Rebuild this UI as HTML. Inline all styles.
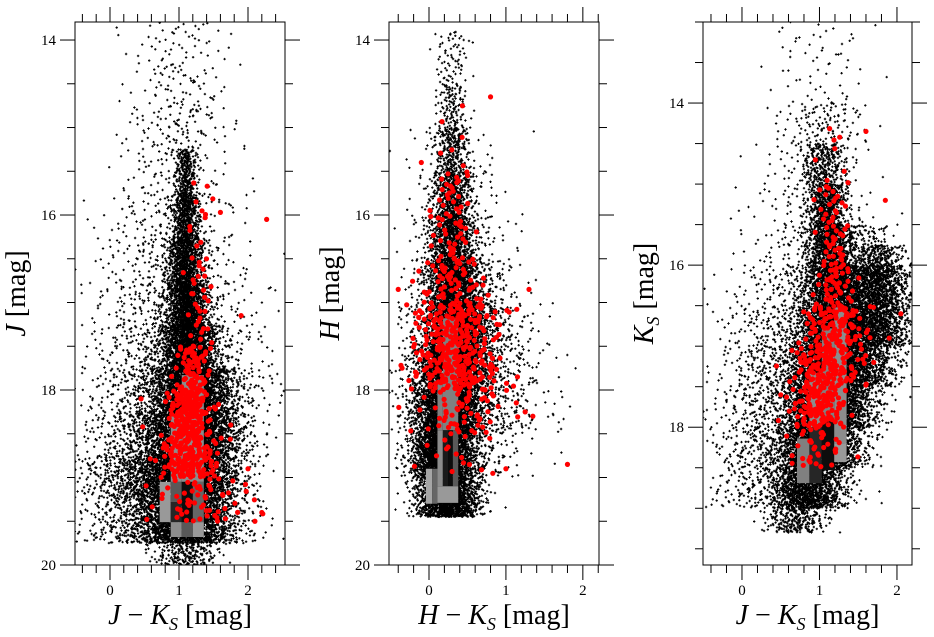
<!DOCTYPE html>
<html><head><meta charset="utf-8"><style>
html,body{margin:0;padding:0;background:#fff;}
svg{display:block;font-family:"Liberation Serif",serif;}
</style></head><body>
<svg id="fig" width="934" height="637" viewBox="0 0 934 637"></svg>
<script>
// ---------- DATA ----------
const p1BinLo   = [13.8,14.25,14.75,15.25,15.75,16.25,16.75,17.25,17.75,18.25,18.75,19.25,19.75];
const p1BinHi   = [14.25,14.75,15.25,15.75,16.25,16.75,17.25,17.75,18.25,18.75,19.25,19.75,20.0];
const p1CoreN   = [50,70,110,250,450,700,1000,1400,1800,2000,2000,1700,200];
const p1CoreC   = [1.0,1.0,1.0,1.1,1.1,1.1,1.12,1.15,1.2,1.2,1.15,1.1,1.1];
const p1CoreS   = [0.4,0.35,0.4,0.08,0.1,0.13,0.15,0.2,0.28,0.32,0.35,0.35,0.25];
const p1HaloN   = [0,0,0,80,130,180,250,400,650,900,1100,800,0];
const p1HaloC   = [0,0,0,0.9,0.9,0.9,0.9,0.95,1.0,0.9,0.7,0.8,0];
const p1HaloS   = [0,0,0,0.45,0.5,0.55,0.6,0.6,0.6,0.55,0.55,0.6,0];
const p1RedLo   = [15.6,16.5,17.5,18.0,18.5,19.0];
const p1RedHi   = [16.5,17.5,18.0,18.5,19.0,19.5];
const p1RedN    = [12,30,70,180,180,60];
const p1RedC    = [1.3,1.3,1.2,1.15,1.15,1.3];
const p1RedS    = [0.12,0.1,0.12,0.15,0.2,0.35];
const p1OutX    = [1.6,2.27,1.9,0.45,2.2,2.1,1.75,2.0];
const p1OutY    = [15.97,16.05,17.15,18.1,19.4,19.5,18.4,18.9];
const p1CellX0  = [1.04,0.88,0.72,0.88,0.88,1.04,1.2,0.88,1.04,1.2];
const p1CellX1  = [1.36,1.04,0.88,1.04,1.04,1.2,1.36,1.04,1.2,1.36];
const p1CellY0  = [17.83,18.3,19.05,19.05,19.28,19.05,19.05,19.51,19.51,19.51];
const p1CellY1  = [19.05,19.05,19.51,19.28,19.51,19.51,19.51,19.68,19.68,19.68];
const p1CellG   = [0.55,0.55,0.6,0.35,0.15,0.05,0.4,0.55,0.35,0.6];

const p2BinLo   = [13.9,14.5,15.0,15.5,16.0,16.5,17.0,17.5,18.0,18.5,19.0];
const p2BinHi   = [14.5,15.0,15.5,16.0,16.5,17.0,17.5,18.0,18.5,19.0,19.45];
const p2CoreN   = [70,120,250,450,700,1000,1400,1700,1900,2100,1700];
const p2CoreC   = [0.3,0.3,0.3,0.3,0.3,0.32,0.35,0.3,0.25,0.2,0.25];
const p2CoreS   = [0.12,0.1,0.11,0.13,0.15,0.18,0.2,0.22,0.22,0.2,0.2];
const p2HaloN   = [0,0,50,80,120,250,400,450,350,200,0];
const p2HaloC   = [0,0,0.3,0.35,0.4,0.45,0.5,0.5,0.55,0.45,0];
const p2HaloS   = [0,0,0.3,0.3,0.35,0.35,0.4,0.45,0.5,0.4,0];
const p2RedLo   = [14.6,15.5,16.0,16.5,17.0,17.5,18.0,18.5];
const p2RedHi   = [15.5,16.0,16.5,17.0,17.5,18.0,18.5,19.0];
const p2RedN    = [6,25,30,60,160,170,60,15];
const p2RedC    = [0.4,0.3,0.3,0.3,0.35,0.35,0.45,0.35];
const p2RedS    = [0.2,0.12,0.15,0.22,0.28,0.28,0.3,0.25];
const p2OutX    = [-0.4,-0.35,1.3,1.8,1.35,0.8,1.0,-0.1,1.15,1.25];
const p2OutY    = [16.85,17.75,16.85,18.85,18.3,14.65,18.9,15.4,17.85,18.25];
const p2CellX0  = [0.18,0.11,0.11,0.18,0.25,0.31,-0.04,0.04,0.11];
const p2CellX1  = [0.38,0.18,0.18,0.25,0.31,0.38,0.04,0.11,0.38];
const p2CellY0  = [17.18,17.9,18.46,18.46,18.46,18.46,18.9,18.9,19.1];
const p2CellY1  = [18.46,18.46,19.1,19.1,19.1,19.1,19.3,19.3,19.29];
const p2CellG   = [0.5,0.5,0.55,0.1,0.05,0.35,0.65,0.4,0.6];

const p3BinLo   = [13.0,14.0,14.5,15.0,15.5,15.75,16.0,16.5,17.0,17.5,18.0,18.5,19.0];
const p3BinHi   = [14.0,14.5,15.0,15.5,15.75,16.0,16.5,17.0,17.5,18.0,18.5,19.0,19.3];
const p3CoreN   = [60,120,300,500,400,400,1200,1600,1900,2100,2000,1300,250];
const p3CoreC   = [1.0,1.05,1.05,1.1,1.15,1.15,1.2,1.2,1.15,1.1,1.0,0.85,0.7];
const p3CoreS   = [0.35,0.3,0.15,0.13,0.16,0.16,0.22,0.25,0.27,0.27,0.27,0.25,0.2];
const p3HaloN   = [0,0,50,80,65,65,120,180,220,200,180,120,0];
const p3HaloC   = [0,0,0.9,0.9,1.0,1.0,0.6,0.5,0.4,0.3,0.2,0.1,0];
const p3HaloS   = [0,0,0.4,0.45,0.5,0.5,0.4,0.4,0.35,0.35,0.3,0.3,0];
const p3BlobN   = [0,0,0,0,40,200,850,1000,500,100,0,0,0];
const p3BlobC   = [0,0,0,0,1.65,1.75,1.75,1.7,1.6,1.5,0,0,0];
const p3BlobS   = [0,0,0,0,0.15,0.18,0.22,0.25,0.25,0.22,0,0,0];
const p3RedLo   = [14.3,15.0,15.5,16.0,16.5,17.0,17.5,18.0];
const p3RedHi   = [15.0,15.5,16.0,16.5,17.0,17.5,18.0,18.5];
const p3RedN    = [8,20,30,45,120,150,120,35];
const p3RedC    = [1.2,1.15,1.2,1.2,1.2,1.1,1.0,0.95];
const p3RedS    = [0.12,0.1,0.1,0.12,0.2,0.22,0.18,0.18];
const p3OutX    = [1.6,1.85,0.5,1.9,2.05,1.7];
const p3OutY    = [14.35,15.2,17.6,16.9,16.6,17.2];
const p3CellX0  = [0.71,0.87,0.87,1.03,1.03,1.19,1.19];
const p3CellX1  = [0.87,1.03,1.03,1.19,1.19,1.35,1.35];
const p3CellY0  = [18.14,17.33,18.0,16.78,17.9,16.52,18.2];
const p3CellY1  = [18.69,18.0,18.69,17.9,18.53,18.2,18.43];
const p3CellG   = [0.5,0.55,0.15,0.5,0.05,0.55,0.6];

// ---------- RENDER ----------
const NS="http://www.w3.org/2000/svg";
const svg=document.getElementById('fig');
function mk(tag,attrs,parent){const e=document.createElementNS(NS,tag);for(const k in attrs)e.setAttribute(k,attrs[k]);(parent||svg).appendChild(e);return e;}
function halton(i,b){let f=1,r=0;while(i>0){f/=b;r+=f*(i%b);i=Math.floor(i/b);}return r;}
let seq=1;
function gauss(){const u1=Math.max(1e-6,halton(seq,2)),u2=halton(seq,3),u3=halton(seq,5);seq++;return [Math.sqrt(-2*Math.log(u1))*Math.cos(2*Math.PI*u2),u3];}

function panel(cfg){
  const {id,L,R,T,B,xmin,xmax,ymin,ymax}=cfg;
  const sx=v=>L+(v-xmin)/(xmax-xmin)*(R-L);
  const sy=v=>T+(v-ymin)/(ymax-ymin)*(B-T);
  const g=mk('g',{});
  
  
  const cp=mk('clipPath',{id:id+'clip'},g);mk('rect',{x:L,y:T,width:R-L,height:B-T},cp);
  const plot=mk('g',{'clip-path':'url(#'+id+'clip)'},g);
  const pts=mk('g',{fill:'#000'},plot);
  
  
  let d='';
  function cloud(lo,hi,N,C,S,target,size,color){
    for(let b=0;b<lo.length;b++){
      for(let k=0;k<N[b];k++){
        const [z,u]=gauss();
        const x=C[b]+S[b]*z, y=lo[b]+(hi[b]-lo[b])*u;
        if(color){const c=mk('circle',{cx:sx(x).toFixed(1),cy:sy(y).toFixed(1),r:size},target);
          
          }
        else {const px=sx(x),py=sy(y);d+=`M${(px-1.2).toFixed(1)} ${(py-0.5).toFixed(1)}h2.4v1h-2.4zM${(px-0.5).toFixed(1)} ${(py-1.2).toFixed(1)}h1v2.4h-1z`;}
      }
    }
  }
  cloud(cfg.lo,cfg.hi,cfg.coreN,cfg.coreC,cfg.coreS,pts);
  cloud(cfg.lo,cfg.hi,cfg.haloN,cfg.haloC,cfg.haloS,pts);
  if(cfg.blobN)cloud(cfg.lo,cfg.hi,cfg.blobN,cfg.blobC,cfg.blobS,pts);
  mk('path',{d:d},pts);
  const hm=mk('g',{},plot);
  
  
  for(let i=0;i<cfg.cx0.length;i++){
    const v=Math.round(cfg.cg[i]*255);
    const r=mk('rect',{x:sx(cfg.cx0[i]),y:sy(cfg.cy0[i]),width:sx(cfg.cx1[i])-sx(cfg.cx0[i]),height:sy(cfg.cy1[i])-sy(cfg.cy0[i]),fill:`rgb(${v},${v},${v})`},hm);
    
    
  }
  const red=mk('g',{fill:'#ff0000'},plot);
  
  
  cloud(cfg.rlo,cfg.rhi,cfg.rN,cfg.rC,cfg.rS,red,2.6,true);
  for(let i=0;i<cfg.ox.length;i++){
    const c=mk('circle',{cx:sx(cfg.ox[i]),cy:sy(cfg.oy[i]),r:2.6},red);
    
    
  }
  const fr=mk('rect',{x:L,y:T,width:R-L,height:B-T,fill:'none',stroke:'#000','stroke-width':1},g);
  
  
  const tk=mk('g',{stroke:'#000','stroke-width':1},g);
  
  
  const eps=1e-6;
  for(let v=Math.ceil(xmin/0.2)*0.2;v<=xmax+eps;v+=0.2){
    const major=Math.abs(v-Math.round(v))<eps, len=major?15:8, x=sx(v);
    mk('line',{x1:x,y1:B,x2:x,y2:B+len},tk);mk('line',{x1:x,y1:T,x2:x,y2:T-len},tk);
    if(major){const t=mk('text',{x:x,y:B+30,'text-anchor':'middle','font-size':15,fill:'#000',stroke:'none'},g);t.textContent=Math.round(v);
      }
  }
  for(let v=Math.ceil(ymin/0.5)*0.5;v<=ymax+eps;v+=0.5){
    const major=Math.abs(v/2-Math.round(v/2))<eps, len=major?15:8, y=sy(v);
    mk('line',{x1:L,y1:y,x2:L-len,y2:y},tk);mk('line',{x1:R,y1:y,x2:R+len,y2:y},tk);
    if(major){const t=mk('text',{x:L-19,y:y+5,'text-anchor':'end','font-size':15,fill:'#000',stroke:'none'},g);t.textContent=Math.round(v);
      }
  }
  const xl=mk('text',{x:(L+R)/2,y:624,'text-anchor':'middle','font-size':28},g);
  xl.innerHTML=cfg.xlab;
  
  const yx=L-50, yy=(T+B)/2;
  const yl=mk('text',{x:yx,y:yy,'text-anchor':'middle','font-size':28,transform:`rotate(-90 ${yx} ${yy})`},g);
  yl.innerHTML=cfg.ylab;
  
}

const jk='<tspan font-style="italic">J</tspan> − <tspan font-style="italic">K</tspan><tspan font-size="18" dy="6" font-style="italic">S</tspan><tspan dy="-6"> [mag]</tspan>';
panel({id:'jk',L:75,R:285,T:22,B:565,xmin:-0.507,xmax:2.536,ymin:13.794,ymax:20,
  lo:p1BinLo,hi:p1BinHi,coreN:p1CoreN,coreC:p1CoreC,coreS:p1CoreS,haloN:p1HaloN,haloC:p1HaloC,haloS:p1HaloS,
  rlo:p1RedLo,rhi:p1RedHi,rN:p1RedN,rC:p1RedC,rS:p1RedS,ox:p1OutX,oy:p1OutY,
  cx0:p1CellX0,cx1:p1CellX1,cy0:p1CellY0,cy1:p1CellY1,cg:p1CellG,
  xlab:jk,ylab:'<tspan font-style="italic">J</tspan> [mag]'});
panel({id:'hk',L:389,R:599,T:22,B:565,xmin:-0.52,xmax:2.21,ymin:13.794,ymax:20,
  lo:p2BinLo,hi:p2BinHi,coreN:p2CoreN,coreC:p2CoreC,coreS:p2CoreS,haloN:p2HaloN,haloC:p2HaloC,haloS:p2HaloS,
  rlo:p2RedLo,rhi:p2RedHi,rN:p2RedN,rC:p2RedC,rS:p2RedS,ox:p2OutX,oy:p2OutY,
  cx0:p2CellX0,cx1:p2CellX1,cy0:p2CellY0,cy1:p2CellY1,cg:p2CellG,
  xlab:'<tspan font-style="italic">H</tspan> − <tspan font-style="italic">K</tspan><tspan font-size="18" dy="6" font-style="italic">S</tspan><tspan dy="-6"> [mag]</tspan>',
  ylab:'<tspan font-style="italic">H</tspan> [mag]'});
panel({id:'ks',L:703,R:912,T:22,B:565,xmin:-0.503,xmax:2.194,ymin:13.0,ymax:19.70,
  lo:p3BinLo,hi:p3BinHi,coreN:p3CoreN,coreC:p3CoreC,coreS:p3CoreS,haloN:p3HaloN,haloC:p3HaloC,haloS:p3HaloS,
  blobN:p3BlobN,blobC:p3BlobC,blobS:p3BlobS,
  rlo:p3RedLo,rhi:p3RedHi,rN:p3RedN,rC:p3RedC,rS:p3RedS,ox:p3OutX,oy:p3OutY,
  cx0:p3CellX0,cx1:p3CellX1,cy0:p3CellY0,cy1:p3CellY1,cg:p3CellG,
  xlab:jk,ylab:'<tspan font-style="italic">K</tspan><tspan font-size="18" dy="6" font-style="italic">S</tspan><tspan dy="-6"> [mag]</tspan>'});
</script>
</body></html>
